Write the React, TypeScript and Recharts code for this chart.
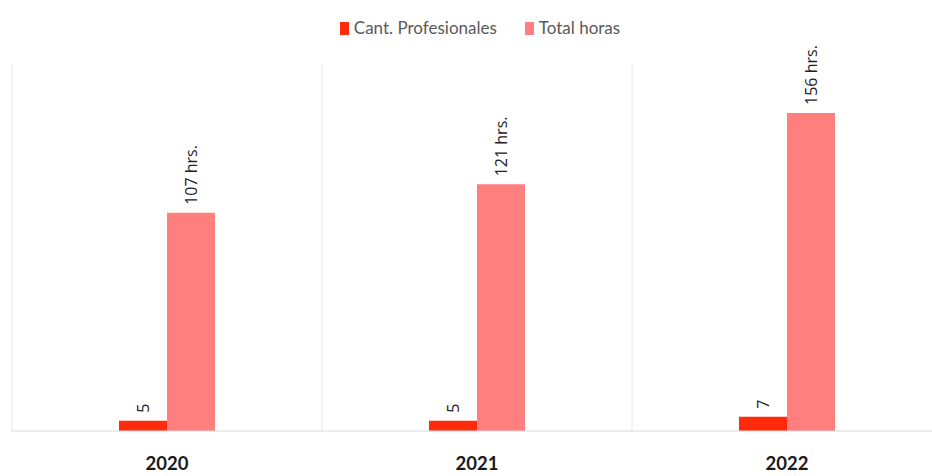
import React from 'react';
import { Bar, BarChart, CartesianGrid, LabelList, Legend, XAxis, YAxis } from 'recharts';

const years = ['2020', '2021', '2022'];
const profesionales = [5, 5, 7];
const totalHoras = [107, 121, 156];

const data = years.map((year, i) => ({
  year,
  profesionales: profesionales[i],
  horas: totalHoras[i],
}));

const RED = '#ff2b0a';
const PINK = '#ff7f7f';

const rotatedLabel = (suffix: string) => (props: any) => {
  const { x, y, width, value } = props;
  const cx = Number(x) + Number(width) / 2;
  const cy = Number(y) - 8;
  return (
    <text
      x={cx}
      y={cy}
      transform={`rotate(-90 ${cx} ${cy})`}
      textAnchor="start"
      dominantBaseline="central"
      fontFamily="'Open Sans', sans-serif"
      fontSize={16}
      fill="#222"
    >
      {`${value}${suffix}`}
    </text>
  );
};

const legendContent = (props: any) => {
  const { payload } = props;
  return (
    <div style={{ height: 20, display: 'flex', justifyContent: 'center', gap: 28, fontFamily: 'Lato, sans-serif', fontSize: 17, lineHeight: '20px', color: '#595959' }}>
      {payload.map((p: any) => (
        <span key={p.value} style={{ display: 'flex', alignItems: 'center' }}>
          <span style={{ display: 'inline-block', width: 9, height: 13, background: p.color, marginRight: 5 }} />
          {p.value}
        </span>
      ))}
    </div>
  );
};

export default function App() {
  return (
    <div style={{ position: 'absolute', left: 0, top: 0, width: 932, height: 476, overflow: 'hidden', background: '#fff' }}>
      <BarChart
        width={942}
        height={476}
        data={data}
        margin={{ top: 44, right: 0, left: 12, bottom: 0 }}
        barGap={0}
        barSize={48}
      >
        <CartesianGrid
          horizontal={false}
          stroke="#e6e6e6"
          verticalCoordinatesGenerator={({ offset }: any) =>
            years.map((_, i) => offset.left + (offset.width / years.length) * i)
          }
        />
        <XAxis
          dataKey="year"
          axisLine={{ stroke: '#d9d9d9' }}
          tickLine={false}
          height={45}
          tick={{ fontFamily: 'Lato, sans-serif', fontWeight: 700, fontSize: 18.5, fill: '#1a1a1a', dy: 18 }}
        />
        <YAxis hide domain={[0, 180]} />
        <Legend verticalAlign="top" wrapperStyle={{ top: 18, left: 14, width: 932 }} content={legendContent} />
        <Bar dataKey="profesionales" name="Cant. Profesionales" fill={RED} isAnimationActive={false}>
          <LabelList dataKey="profesionales" content={rotatedLabel('')} />
        </Bar>
        <Bar dataKey="horas" name="Total horas" fill={PINK} isAnimationActive={false}>
          <LabelList dataKey="horas" content={rotatedLabel(' hrs.')} />
        </Bar>
      </BarChart>
    </div>
  );
}
